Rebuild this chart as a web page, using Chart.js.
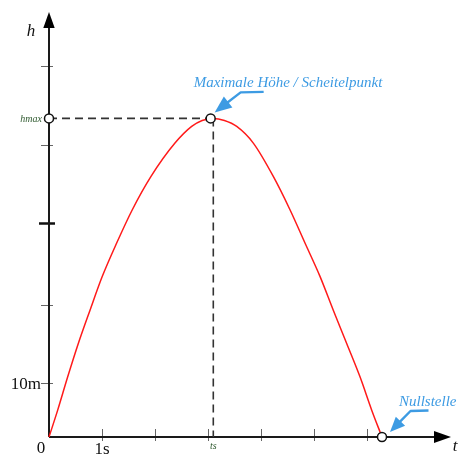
<!DOCTYPE html>
<html>
<head>
<meta charset="utf-8">
<script src="https://cdn.jsdelivr.net/npm/chart.js@4/dist/chart.umd.min.js"></script>
<style>
html,body{margin:0;padding:0;background:#fff;}
#wrap{width:459px;height:455px;}
</style>
</head>
<body>
<div id="wrap"><canvas id="c" width="459" height="455"></canvas></div>
<script>
// time (s) and height (m)
const curveTimes   = [0, 0.164, 0.353, 0.553, 0.774, 1.006, 1.277, 1.572, 1.925, 2.377, 2.692, 2.89, 3.1, 3.31, 3.542, 3.855, 4.232, 4.547, 4.830, 5.113, 5.364, 5.617, 5.868, 6.089, 6.283];
const curveHeights = [0, 5.0, 11.2, 17.4, 23.6, 29.9, 36.1, 42.3, 48.5, 54.7, 57.8, 58.9, 59.3, 58.9, 57.8, 54.7, 48.5, 42.3, 36.1, 29.9, 23.6, 17.4, 11.2, 5.0, 0];
const xTicks = [1, 2, 3, 4, 5, 6];
const yTicks = [10, 24.6, 39.8, 54.4, 69];
const yMajorTick = 39.8;
const hmax = 59.3;
const tPeak = 3.05;
const ts = 3.1;
const tZero = 6.283;
const xMax = 7.585;
const yMax = 79.1;
const labels = {h: 'h', t: 't', origin: '0', oneS: '1s', tenM: '10m', ts: 'ts', hmax: 'hmax',
  apex: 'Maximale Höhe / Scheitelpunkt', zero: 'Nullstelle'};

const serif = '"Liberation Serif", "DejaVu Serif", serif';
const blue = '#3d9be3';
const green = '#2f5a2f';

function arrowHead(ctx, fx, fy, tx, ty, len, half) {
  const a = Math.atan2(ty - fy, tx - fx);
  ctx.beginPath();
  ctx.moveTo(tx, ty);
  ctx.lineTo(tx - len * Math.cos(a) + half * Math.sin(a), ty - len * Math.sin(a) - half * Math.cos(a));
  ctx.lineTo(tx - len * Math.cos(a) - half * Math.sin(a), ty - len * Math.sin(a) + half * Math.cos(a));
  ctx.closePath();
  ctx.fill();
}

function callout(ctx, cx, cy, tipD, elbowD, endD, headLen, headHalf) {
  const tip = [cx + tipD[0], cy + tipD[1]];
  const elbow = [cx + elbowD[0], cy + elbowD[1]];
  const end = [cx + endD[0], cy + endD[1]];
  const a = Math.atan2(tip[1] - elbow[1], tip[0] - elbow[0]);
  ctx.beginPath();
  ctx.moveTo(end[0], end[1]);
  ctx.lineTo(elbow[0], elbow[1]);
  ctx.lineTo(tip[0] - (headLen - 2) * Math.cos(a), tip[1] - (headLen - 2) * Math.sin(a));
  ctx.stroke();
  arrowHead(ctx, elbow[0], elbow[1], tip[0], tip[1], headLen, headHalf);
}

const axesPlugin = {
  id: 'axesPlugin',
  beforeDatasetsDraw(chart) {
    const ctx = chart.ctx, xs = chart.scales.x, ys = chart.scales.y;
    const x0 = xs.getPixelForValue(0), y0 = ys.getPixelForValue(0);
    const xEnd = xs.getPixelForValue(xMax), yEnd = ys.getPixelForValue(yMax);
    ctx.save();
    // ticks
    ctx.strokeStyle = '#666'; ctx.lineWidth = 1;
    xTicks.forEach(v => {
      const px = Math.round(xs.getPixelForValue(v)) + 0.5;
      ctx.beginPath(); ctx.moveTo(px, y0 - 8); ctx.lineTo(px, y0 + 4); ctx.stroke();
    });
    yTicks.forEach(v => {
      const py = Math.round(ys.getPixelForValue(v)) + 0.5;
      if (v === yMajorTick) {
        ctx.strokeStyle = '#111'; ctx.lineWidth = 2.5;
        ctx.beginPath(); ctx.moveTo(x0 - 10, py); ctx.lineTo(x0 + 6, py); ctx.stroke();
        ctx.strokeStyle = '#666'; ctx.lineWidth = 1;
      } else {
        ctx.beginPath(); ctx.moveTo(x0 - 8, py); ctx.lineTo(x0 + 4, py); ctx.stroke();
      }
    });
    // axes
    ctx.strokeStyle = '#1a1a1a'; ctx.fillStyle = '#000'; ctx.lineWidth = 2;
    ctx.beginPath(); ctx.moveTo(x0, y0); ctx.lineTo(xEnd - 10, y0); ctx.stroke();
    ctx.beginPath(); ctx.moveTo(x0, y0); ctx.lineTo(x0, yEnd + 10); ctx.stroke();
    arrowHead(ctx, x0, y0, xEnd, y0, 17, 6);
    arrowHead(ctx, x0, y0, x0, yEnd, 16, 5.7);
    // labels
    ctx.fillStyle = '#111';
    ctx.textBaseline = 'middle';
    ctx.font = 'italic 17px ' + serif;
    ctx.textAlign = 'center';
    ctx.fillText(labels.h, x0 - 18, yEnd + 20);
    ctx.fillText(labels.t, xEnd + 4, y0 + 10);
    ctx.font = '17px ' + serif;
    ctx.fillText(labels.origin, x0 - 8, y0 + 12);
    ctx.fillText(labels.oneS, xs.getPixelForValue(1), y0 + 13);
    ctx.textAlign = 'right';
    ctx.fillText(labels.tenM, x0 - 8, ys.getPixelForValue(10) + 1);
    ctx.fillStyle = green;
    ctx.font = 'italic 10px ' + serif;
    ctx.fillText(labels.hmax, x0 - 7, ys.getPixelForValue(hmax) + 1);
    ctx.textAlign = 'center';
    ctx.fillText(labels.ts, xs.getPixelForValue(ts), y0 + 9);
    ctx.restore();
  },
  afterDatasetsDraw(chart) {
    const ctx = chart.ctx, xs = chart.scales.x, ys = chart.scales.y;
    ctx.save();
    ctx.strokeStyle = blue; ctx.fillStyle = blue; ctx.lineWidth = 2.4; ctx.lineCap = 'butt'; ctx.lineJoin = 'round';
    // apex callout
    const px = xs.getPixelForValue(tPeak), py = ys.getPixelForValue(hmax);
    callout(ctx, px, py, [4, -6], [30, -26], [53, -26.5], 17, 7);
    ctx.font = 'italic 15px ' + serif;
    ctx.textAlign = 'left'; ctx.textBaseline = 'alphabetic';
    ctx.fillText(labels.apex, px - 17, py - 31);
    // zero callout
    const zx = xs.getPixelForValue(tZero), zy = ys.getPixelForValue(0);
    callout(ctx, zx, zy, [8, -5], [28.5, -26], [46.5, -26.5], 15, 6.5);
    ctx.fillText(labels.zero, zx + 17, zy - 31);
    ctx.restore();
  }
};

new Chart(document.getElementById('c'), {
  type: 'line',
  data: {
    datasets: [
      {
        data: curveTimes.map((t, i) => ({x: t, y: curveHeights[i]})),
        borderColor: '#ff1a1a', borderWidth: 1.5, pointRadius: 0,
        cubicInterpolationMode: 'monotone', fill: false, order: 1, clip: false
      },
      {
        data: [{x: 0, y: hmax}, {x: tPeak, y: hmax}],
        borderColor: '#333', borderWidth: 1.6, borderDash: [8, 5], pointRadius: 0, order: 2
      },
      {
        data: [{x: ts, y: hmax}, {x: ts, y: 0}],
        borderColor: '#333', borderWidth: 1.6, borderDash: [8, 5], pointRadius: 0, order: 2
      },
      {
        data: [{x: 0, y: hmax}, {x: tPeak, y: hmax}, {x: tZero, y: 0}],
        showLine: false, pointRadius: 4.5, pointBackgroundColor: '#fff',
        pointBorderColor: '#111', pointBorderWidth: 1.5, order: 0, clip: false
      }
    ]
  },
  options: {
    responsive: false, animation: false, maintainAspectRatio: false,
    layout: {padding: {left: 49, right: 8, top: 12, bottom: 18}},
    plugins: {legend: {display: false}, tooltip: {enabled: false}},
    scales: {
      x: {type: 'linear', min: 0, max: xMax, display: false},
      y: {type: 'linear', min: 0, max: yMax, display: false}
    }
  },
  plugins: [axesPlugin]
});
</script>
</body>
</html>
